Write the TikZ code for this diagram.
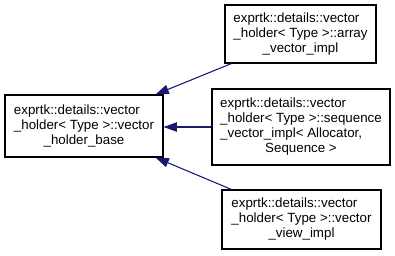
\documentclass[tikz,border=0pt]{standalone}
\usepackage{fontspec}
\setmainfont{Liberation Sans}
\usepackage{xcolor}
\usepackage{tikz}
\usetikzlibrary{arrows.meta,calc}
\definecolor{midblue}{HTML}{191970}
\newcommand{\lastline}[1]{\multicolumn{1}{@{}c@{}}{#1}}

\begin{document}
\begin{tikzpicture}[x=0.75pt,y=-0.75pt,every node/.style={font=\fontsize{10}{11.25}\selectfont},
  cls/.style={draw=black,line width=0.8pt,inner sep=0pt,fill=white},
  inh/.style={midblue,line width=0.8pt,{Triangle[length=10pt,width=7pt]}-}]
  \useasboundingbox (0,0) rectangle (395,255);
  % base class
  \node[cls,minimum width=118.5pt,minimum height=46.5pt] (base) at (84,126)
    {\begin{tabular}{@{}l@{}}exprtk::details::vector\\ \_holder< Type >::vector\\ \lastline{\_holder\_base}\end{tabular}};
  % derived classes
  \node[cls,minimum width=113.25pt,minimum height=43.5pt] (array) at (300.5,34)
    {\begin{tabular}{@{}l@{}}exprtk::details::vector\\ \_holder< Type >::array\\ \lastline{\_vector\_impl}\end{tabular}};
  \node[cls,minimum width=133.5pt,minimum height=57pt] (seq) at (301,127)
    {\begin{tabular}{@{}l@{}}exprtk::details::vector\\ \_holder< Type >::sequence\\ \_vector\_impl< Allocator,\\ \lastline{Sequence >}\end{tabular}};
  \node[cls,minimum width=119.25pt,minimum height=44.25pt] (view) at (301.5,219.5)
    {\begin{tabular}{@{}l@{}}exprtk::details::vector\\ \_holder< Type >::vector\\ \lastline{\_view\_impl}\end{tabular}};
  % inheritance
  \draw[inh] ($(base.north east)+(-8,0)$) -- ($(array.south west)+(7,0)$);
  \draw[inh] (seq.west -| base.east) -- (seq.west);
  \draw[inh] ($(base.south east)+(-8,0)$) -- ($(view.north west)+(10,0)$);
\end{tikzpicture}
\end{document}
